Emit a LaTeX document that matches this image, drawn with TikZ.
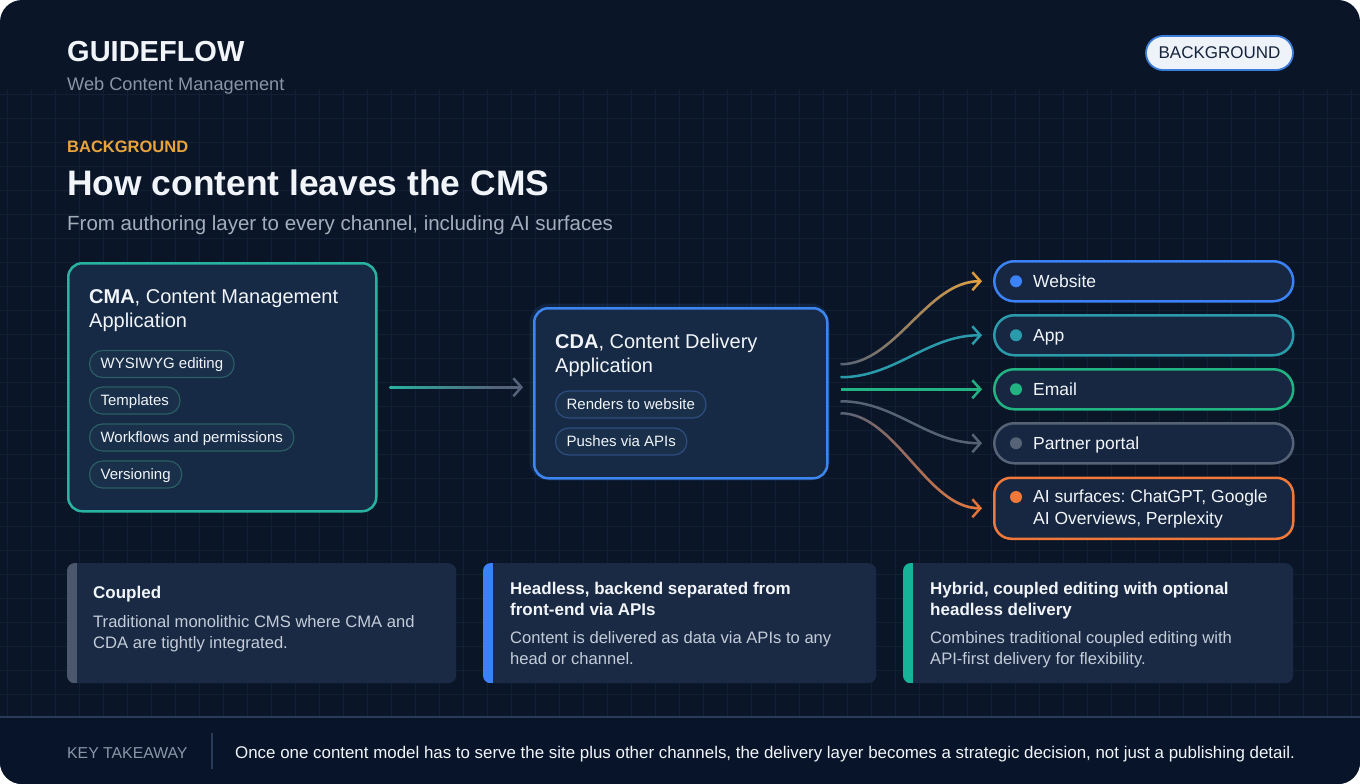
\documentclass[tikz,border=0pt]{standalone}
\usepackage{fontspec}
\setmainfont{Liberation Sans}
\usetikzlibrary{arrows.meta,fadings,calc}
\definecolor{bg}{HTML}{0A1628}
\definecolor{gridc}{HTML}{112036}
\definecolor{txt}{HTML}{F1F5F9}
\definecolor{muted}{HTML}{8A96A8}
\definecolor{subt}{HTML}{A3ADBB}
\definecolor{amber}{HTML}{E8A33D}
\definecolor{boxfill}{HTML}{172A45}
\definecolor{cmaline}{HTML}{27B3A0}
\definecolor{cdaline}{HTML}{3D86F0}
\definecolor{chipteal}{HTML}{2A5E64}
\definecolor{chipblue}{HTML}{2D4E80}
\definecolor{chipfill}{HTML}{1A2F4A}
\definecolor{webc}{HTML}{3B82F6}
\definecolor{appc}{HTML}{2A9BAA}
\definecolor{emailc}{HTML}{22B382}
\definecolor{partc}{HTML}{566376}
\definecolor{aic}{HTML}{F07838}
\definecolor{linkgrey}{HTML}{55637A}
\definecolor{chanfill}{HTML}{172741}
\definecolor{cardfill}{HTML}{1A2A44}
\definecolor{cardtxt}{HTML}{C3CCD8}
\definecolor{stripegrey}{HTML}{4A576C}
\definecolor{stripeteal}{HTML}{17B398}
\definecolor{badgefill}{HTML}{EEF3FA}
\definecolor{badgeline}{HTML}{3B7DD8}
\definecolor{badgetxt}{HTML}{15233B}
\definecolor{footline}{HTML}{2A3B57}
\definecolor{footbg}{HTML}{08142A}
\newcommand\fsz[2]{\fontsize{#1pt}{#2pt}\selectfont}
\frenchspacing
\begin{document}
\begin{tikzpicture}[x=1pt,y=-1pt,
  txtn/.style={inner sep=0pt, anchor=base west, text=txt},
  chip/.style={draw, line width=1.2pt, fill=chipfill, rounded corners=13pt, minimum height=27pt,
    inner xsep=11pt, inner ysep=0pt, text height=12pt, text depth=3pt, anchor=west, text=txt, font=\fsz{15}{18}},
  box/.style={rounded corners=14pt, line width=2.5pt, fill=boxfill, anchor=north west, inner sep=0pt},
  chan/.style={rounded corners=20pt, line width=2.5pt, fill=chanfill, minimum width=299pt, minimum height=40pt,
    anchor=north west, inner sep=0pt},
  chantxt/.style={txtn, font=\fsz{17.5}{21}},
  link/.style={line width=2.5pt},
  tip/.style={-{Straight Barb[length=8pt,width=18pt]}},
  card/.style={fill=cardfill, rounded corners=8pt, anchor=north west, inner sep=0pt, minimum height=120pt},
  cardtitle/.style={txtn, font=\bfseries\fsz{17}{21}},
  cardbody/.style={txtn, text=cardtxt, font=\fsz{16.6}{21}}]
\useasboundingbox (0,0) rectangle (1360,784);
\fill[white] (0,0) rectangle (1360,784);
\begin{scope}
  \clip[rounded corners=22pt] (0,0) rectangle (1360,784);
  \fill[bg] (0,0) rectangle (1360,784);
  \fill[footbg] (0,717) rectangle (1360,784);
  \begin{scope}
    \clip (0,90) rectangle (1360,716);
    \draw[gridc, line width=0.5pt] foreach \x in {7,31,...,1360} {(\x,90) -- (\x,716)};
    \draw[gridc, line width=0.5pt] foreach \y in {94,118,...,716} {(0,\y) -- (1360,\y)};
  \end{scope}
  \draw[footline, line width=1.5pt] (0,717) -- (1360,717);
\end{scope}

% header
\node[txtn, font=\bfseries\fsz{29}{34}] (brand) at (67,62) {GUIDEFLOW};
\node[txtn, text=muted, font=\fsz{18.2}{22}] (brandsub) at (67,90) {Web Content Management};
\node[txtn, text=amber, font=\bfseries\fsz{16.5}{20}] (kicker) at (67,152.5) {BACKGROUND};
\node[txtn, font=\bfseries\fsz{35.4}{40}] (title) at (67,195) {How content leaves the CMS};
\node[txtn, text=subt, font=\fsz{20.5}{24}] (subtitle) at (67,230.5) {From authoring layer to every channel, including AI surfaces};
\node[draw=badgeline, line width=1.8pt, fill=badgefill, rounded corners=17pt, minimum width=147pt,
  minimum height=34pt, inner sep=0pt, text=badgetxt, font=\fsz{17}{20}] (badge) at (1219.5,53) {BACKGROUND};

% CMA
\node[box, draw=cmaline, minimum width=308pt, minimum height=248pt] (cma) at (67,262) {};
\node[txtn, font=\fsz{20}{24}] (cmat1) at (89,303) {\textbf{CMA}, Content Management};
\node[txtn, font=\fsz{20}{24}] (cmat2) at (89,327) {Application};
\node[chip, draw=chipteal] (cmac1) at (89,364) {WYSIWYG editing};
\node[chip, draw=chipteal] (cmac2) at (89,400.5) {Templates};
\node[chip, draw=chipteal] (cmac3) at (89,437.5) {Workflows and permissions};
\node[chip, draw=chipteal] (cmac4) at (89,474.5) {Versioning};

% CDA
\draw[cdaline, line width=7pt, opacity=0.12, rounded corners=16pt] (533,307) rectangle (826,477);
\node[box, draw=cdaline, minimum width=293pt, minimum height=170pt] (cda) at (533,307) {};
\node[txtn, font=\fsz{20}{24}] (cdat1) at (555,348) {\textbf{CDA}, Content Delivery};
\node[txtn, font=\fsz{20}{24}] (cdat2) at (555,372) {Application};
\node[chip, draw=chipblue] (cdac1) at (555,404.5) {Renders to website};
\node[chip, draw=chipblue] (cdac2) at (555,441.5) {Pushes via APIs};

% CMA -> CDA
\coordinate (cmaout) at ($(cma.east)+(12,0)$);
\coordinate (cdain) at ($(cma.east -| cda.west)+(-10,0)$);
\draw[link, linkgrey, tip] (cmaout) -- (cdain);
\shade[left color=cmaline, right color=linkgrey] ($(cmaout)+(0,-1.25)$) rectangle ($(cmaout)!0.8!(cdain)+(0,1.25)$);

% channels
\node[chan, draw=webc] (website) at (993,260) {};
\node[chan, draw=appc] (app) at (993,314) {};
\node[chan, draw=emailc] (email) at (993,368) {};
\node[chan, draw=partc] (partner) at (993,422) {};
\node[chan, draw=aic, minimum height=61pt, rounded corners=17pt] (ai) at (993,476.5) {};
\fill[webc] ($(website.west)+(23,0)$) circle (6pt);
\fill[appc] ($(app.west)+(23,0)$) circle (6pt);
\fill[emailc] ($(email.west)+(23,0)$) circle (6pt);
\fill[partc] ($(partner.west)+(23,0)$) circle (6pt);
\fill[aic] ($(ai.north west)+(23,20.5)$) circle (6pt);
\node[chantxt] (websitet) at ($(website.west)+(40,6)$) {Website};
\node[chantxt] (appt) at ($(app.west)+(40,6)$) {App};
\node[chantxt] (emailt) at ($(email.west)+(40,6)$) {Email};
\node[chantxt] (partnert) at ($(partner.west)+(40,6)$) {Partner portal};
\node[chantxt] (ait1) at ($(ai.north west)+(40,26)$) {AI surfaces: ChatGPT, Google};
\node[chantxt] (ait2) at ($(ai.north west)+(40,47.5)$) {AI Overviews, Perplexity};

% CDA -> channels
\coordinate (s1) at ($(cda.east)+(12,-29)$);
\coordinate (s2) at ($(cda.east)+(12,-16)$);
\coordinate (s3x) at ($(cda.east)+(12,0)$);
\coordinate (s4) at ($(cda.east)+(12,8)$);
\coordinate (s5) at ($(cda.east)+(12,20)$);
\coordinate (e1) at ($(website.west)+(-11,0)$);
\coordinate (e2) at ($(app.west)+(-11,0)$);
\coordinate (e3) at ($(email.west)+(-11,0)$);
\coordinate (e4) at ($(partner.west)+(-11,0)$);
\coordinate (e5) at ($(ai.west)+(-11,0)$);
\draw[link, linkgrey, shorten >=3pt] (s1) .. controls ($(s1)+(55,0)$) and ($(e1)+(-55,0)$) .. (e1);
\draw[link, amber, tip, path fading=west] (s1) .. controls ($(s1)+(55,0)$) and ($(e1)+(-55,0)$) .. (e1);
\draw[link, appc, tip] (s2) .. controls ($(s2)+(55,0)$) and ($(e2)+(-55,0)$) .. (e2);
\draw[link, emailc, tip] (s3x |- email.west) -- (e3);
\draw[link, partc, tip] (s4) .. controls ($(s4)+(55,0)$) and ($(e4)+(-55,0)$) .. (e4);
\draw[link, linkgrey, shorten >=3pt] (s5) .. controls ($(s5)+(55,0)$) and ($(e5)+(-55,0)$) .. (e5);
\draw[link, aic, tip, path fading=west] (s5) .. controls ($(s5)+(55,0)$) and ($(e5)+(-55,0)$) .. (e5);

% cards
\node[card, minimum width=389pt] (card1) at (67,563) {};
\node[card, minimum width=393pt] (card2) at (483,563) {};
\node[card, minimum width=390pt] (card3) at (903,563) {};
\begin{scope}
  \clip[rounded corners=8pt] (card1.north west) rectangle (card1.south east);
  \fill[stripegrey] (card1.north west) rectangle ($(card1.south west)+(10,0)$);
\end{scope}
\begin{scope}
  \clip[rounded corners=8pt] (card2.north west) rectangle (card2.south east);
  \fill[webc] (card2.north west) rectangle ($(card2.south west)+(10,0)$);
\end{scope}
\begin{scope}
  \clip[rounded corners=8pt] (card3.north west) rectangle (card3.south east);
  \fill[stripeteal] (card3.north west) rectangle ($(card3.south west)+(10,0)$);
\end{scope}
\node[cardtitle] (card1t) at ($(card1.north west)+(26,35)$) {Coupled};
\node[cardbody] (card1b1) at ($(card1.north west)+(26,64)$) {Traditional monolithic CMS where CMA and};
\node[cardbody] (card1b2) at ($(card1.north west)+(26,85)$) {CDA are tightly integrated.};
\node[cardtitle] (card2t1) at ($(card2.north west)+(27,31)$) {Headless, backend separated from};
\node[cardtitle] (card2t2) at ($(card2.north west)+(27,52)$) {front-end via APIs};
\node[cardbody] (card2b1) at ($(card2.north west)+(27,80)$) {Content is delivered as data via APIs to any};
\node[cardbody] (card2b2) at ($(card2.north west)+(27,101)$) {head or channel.};
\node[cardtitle] (card3t1) at ($(card3.north west)+(27,31)$) {Hybrid, coupled editing with optional};
\node[cardtitle] (card3t2) at ($(card3.north west)+(27,52)$) {headless delivery};
\node[cardbody] (card3b1) at ($(card3.north west)+(27,80)$) {Combines traditional coupled editing with};
\node[cardbody] (card3b2) at ($(card3.north west)+(27,101)$) {API-first delivery for flexibility.};

% footer
\node[txtn, text=muted, font=\fsz{15.8}{19}] (keyt) at (67,758) {KEY TAKEAWAY};
\coordinate (sepa) at (212,733);
\coordinate (sepb) at (212,769);
\draw[footline, line width=1.2pt] (sepa) -- (sepb);
\node[txtn, font=\fsz{16.9}{20}] (takeaway) at (235,758) {Once one content model has to serve the site plus other channels, the delivery layer becomes a strategic decision, not just a publishing detail.};
\end{tikzpicture}
\end{document}
